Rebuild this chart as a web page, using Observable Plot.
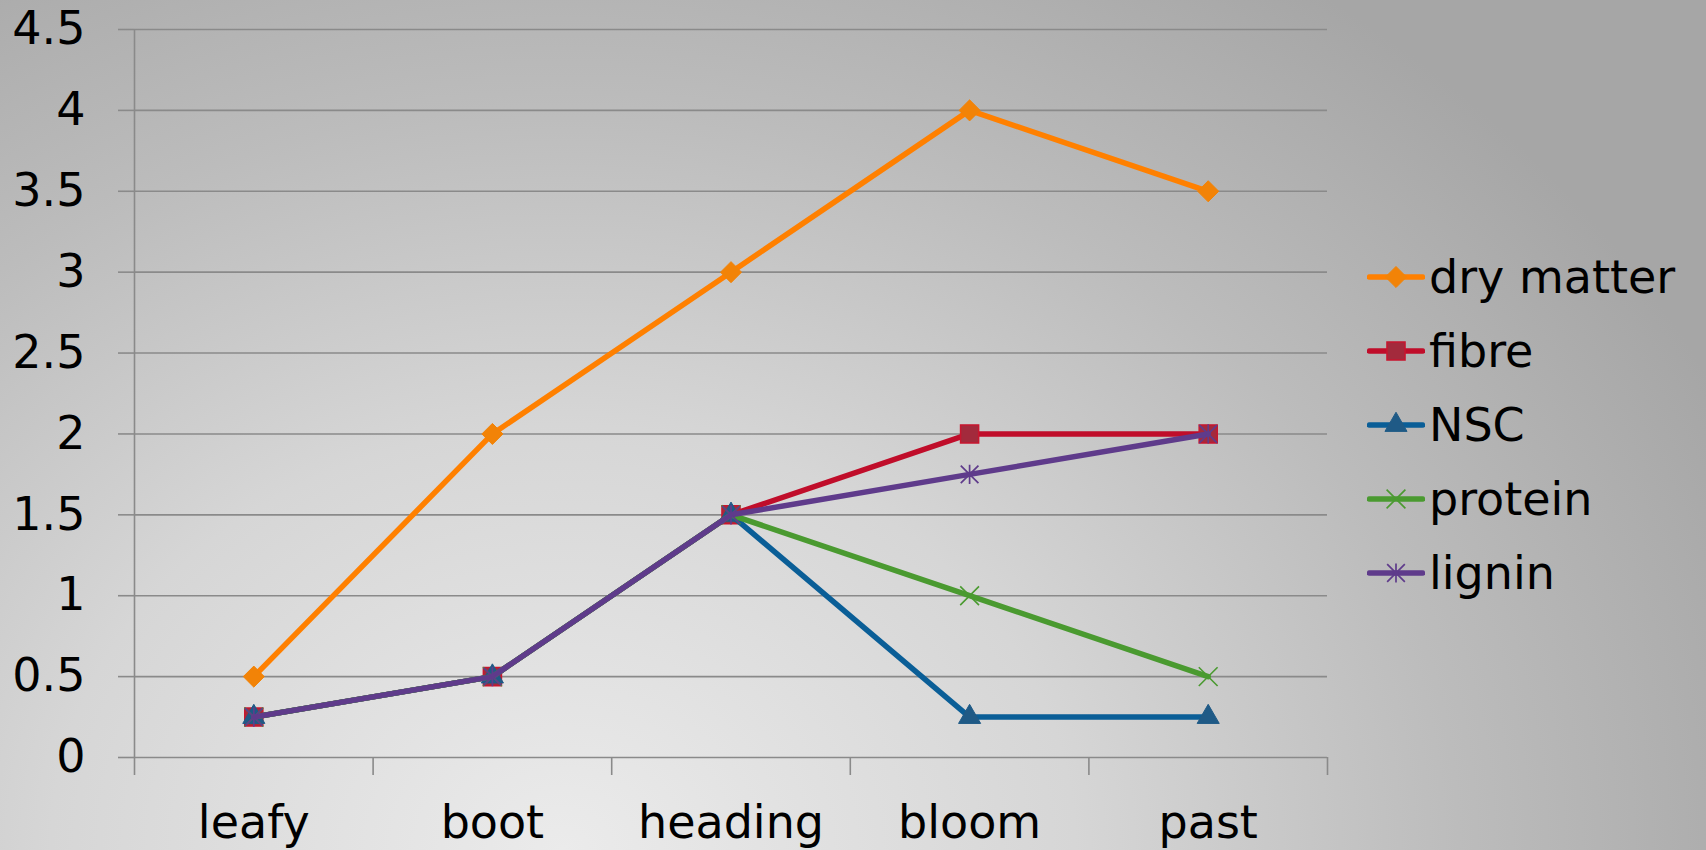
<!DOCTYPE html>
<html>
<head>
<meta charset="utf-8">
<script src="https://cdn.jsdelivr.net/npm/d3@7"></script>
<script src="https://cdn.jsdelivr.net/npm/@observablehq/plot@0.6"></script>
<style>
  html, body { margin: 0; padding: 0; }
  #stage {
    position: relative;
    width: 1706px;
    height: 850px;
    overflow: hidden;
    background: radial-gradient(ellipse 75% 125% at 33% 100%, #ebebeb 0%, #d6d6d6 40%, #bcbcbc 70%, #a6a6a6 100%);
    font-family: "DejaVu Sans", sans-serif;
  }
  #chart { position: absolute; left: 0; top: 0; }
  #legend { position: absolute; left: 1367px; top: 240px; }
  .row { display: flex; align-items: center; height: 74px; }
  .row span { font-size: 46px; color: #000; margin-left: 4px; white-space: nowrap; }
</style>
</head>
<body>
<div id="stage">
  <div id="chart"></div>
  <div id="legend"></div>
</div>
<script>
// Growth stages along the x axis
const categories = ["leafy", "boot", "heading", "bloom", "past"];

// Series values per stage
const dryMatter = [0.5, 2, 3, 4, 3.5];
const fibre = [0.25, 0.5, 1.5, 2, 2];
const nsc = [0.25, 0.5, 1.5, 0.25, 0.25];
const protein = [0.25, 0.5, 1.5, 1, 0.5];
const lignin = [0.25, 0.5, 1.5, 1.75, 2];

const seriesNames = ["dry matter", "fibre", "NSC", "protein", "lignin"];
const yTicks = [0, 0.5, 1, 1.5, 2, 2.5, 3, 3.5, 4, 4.5];

// A diamond drawn as a square turned 45 degrees
const diamondSymbol = {
  draw(ctx, size) {
    const h = Math.sqrt(size / 2);
    ctx.moveTo(0, -h); ctx.lineTo(h, 0); ctx.lineTo(0, h); ctx.lineTo(-h, 0); ctx.closePath();
  }
};

// A star: vertical stroke crossed by two diagonals
const starSymbol = {
  draw(ctx, size) {
    const h = Math.sqrt(size / Math.PI);
    const d = h * 0.92;
    ctx.moveTo(0, -h); ctx.lineTo(0, h);
    ctx.moveTo(-d, -d); ctx.lineTo(d, d);
    ctx.moveTo(-d, d); ctx.lineTo(d, -d);
  }
};

const seriesStyle = [
  {values: dryMatter, line: "#ff8000", symbol: diamondSymbol, r: 8.4, fill: "#f28307", mstroke: "#f28307", sw: 1},
  {values: fibre, line: "#c00d2a", symbol: d3.symbolSquare, r: 10.2, fill: "#a32a3c", mstroke: "#c8162f", sw: 1.5},
  {values: nsc, line: "#0a5e97", symbol: d3.symbolTriangle, r: 8.2, fill: "#1f5a86", mstroke: "#1f5a86", sw: 1},
  {values: protein, line: "#4a9a30", symbol: d3.symbolTimes, r: 8.6, fill: "none", mstroke: "#4a9a30", sw: 1.6},
  {values: lignin, line: "#5f3b8b", symbol: starSymbol, r: 9.6, fill: "none", mstroke: "#5f3b8b", sw: 1.7}
];

// x is a continuous index: stage i sits in the middle of slot [i, i+1]
const rowsFor = (values, name) => values.map((v, i) => ({series: name, stage: categories[i], x: i + 0.5, value: v}));

const seriesMarks = seriesStyle.flatMap((s, k) => {
  const rows = rowsFor(s.values, seriesNames[k]);
  return [
    Plot.line(rows, {x: "x", y: "value", stroke: s.line, strokeWidth: 5.5, strokeLinejoin: "round", strokeLinecap: "round"}),
    Plot.dot(rows, {x: "x", y: "value", symbol: () => s.symbol, r: s.r, fill: s.fill, stroke: s.mstroke, strokeWidth: s.sw})
  ];
});

const slotEdges = d3.range(0, categories.length + 1);
const slotCenters = categories.map((c, i) => i + 0.5);

const chart = Plot.plot({
  width: 1706,
  height: 850,
  marginLeft: 134,
  marginRight: 379,
  marginTop: 29,
  marginBottom: 93,
  style: {background: "transparent", fontFamily: "DejaVu Sans, sans-serif", fontSize: "46px", color: "#000", overflow: "visible"},
  x: {domain: [0, categories.length]},
  y: {domain: [0, 4.5]},
  marks: [
    Plot.ruleY(yTicks, {stroke: "#8a8a8a", strokeWidth: 1.6}),
    Plot.ruleX([0], {stroke: "#8a8a8a", strokeWidth: 1.6}),
    Plot.axisY({ticks: yTicks, tickSize: 16, tickPadding: 33, stroke: "#8a8a8a", strokeWidth: 1.6, strokeOpacity: 1, fill: "#000", label: null, tickFormat: d => String(d)}),
    Plot.axisX({ticks: slotEdges, tickSize: 18, tickFormat: () => "", stroke: "#8a8a8a", strokeWidth: 1.6, strokeOpacity: 1, label: null}),
    Plot.axisX({ticks: slotCenters, tickSize: 0, tickPadding: 48, tickFormat: (d, i) => categories[i], fill: "#000", label: null}),
    ...seriesMarks
  ]
});
document.getElementById("chart").appendChild(chart);

// Legend: one row per series with a line-and-marker swatch
const legend = d3.select("#legend");
seriesStyle.forEach((s, k) => {
  const row = legend.append("div").attr("class", "row");
  const svg = row.append("svg").attr("width", 58).attr("height", 40);
  svg.append("line").attr("x1", 2.5).attr("x2", 55.5).attr("y1", 20).attr("y2", 20)
    .attr("stroke", s.line).attr("stroke-width", 5.5).attr("stroke-linecap", "round");
  svg.append("path").attr("transform", "translate(29,20)")
    .attr("d", d3.symbol(s.symbol, Math.PI * s.r * s.r)())
    .attr("fill", s.fill).attr("stroke", s.mstroke).attr("stroke-width", s.sw);
  row.append("span").text(seriesNames[k]);
});
</script>
</body>
</html>
